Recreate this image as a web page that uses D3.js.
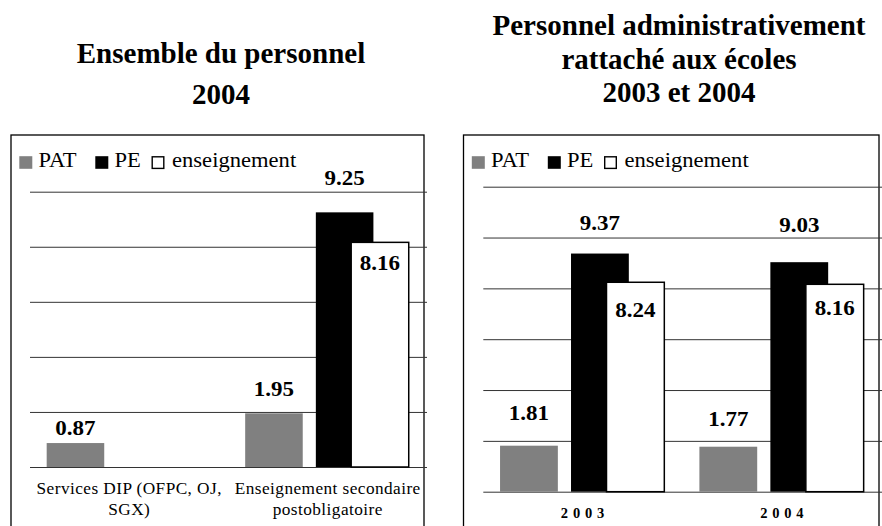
<!DOCTYPE html>
<html>
<head>
<meta charset="utf-8">
<script src="https://cdn.jsdelivr.net/npm/d3@7"></script>
<style>
  body { margin: 0; background: #fff; }
  svg { display: block; }
</style>
</head>
<body>
<script>
// data
var seriesNames = ["PAT", "PE", "enseignement"];

var leftCategories = ["Services DIP (OFPC, OJ, SGX)", "Enseignement secondaire postobligatoire"];
var leftPAT = [0.87, 1.95];
var leftPE = [null, 9.25];
var leftEns = [null, 8.16];
var leftTicks = [0, 2, 4, 6, 8, 10];

var rightCategories = ["2003", "2004"];
var rightPAT = [1.81, 1.77];
var rightPE = [9.37, 9.03];
var rightEns = [8.24, 8.16];
var rightTicks = [0, 2, 4, 6, 8, 10, 12];

// label nudges (pixels above the bar top, negative = inside the bar)
var leftNudge = [[8, 17], [null, 27], [null, -28]];
var rightNudge = [[26, 21], [24, 30], [-35, -31]];

var colors = { "PAT": "#808080", "PE": "#000000", "enseignement": "#ffffff" };
var serif = "Liberation Serif";

var width = 882, height = 526;

var svg = d3.select('body')
    .append('svg')
    .attr('width', width)
    .attr('height', height);

// linebreaking, stretched text measured with its x scale
function wrap(text, maxWidth, stretch, lineHeight) {
    text.each(function () {
        var text = d3.select(this),
            words = text.text().split(/\s+/).reverse(),
            word,
            line = [],
            lineNumber = 0,
            tspan = text.text(null).append("tspan").attr("x", 0).attr("y", 0);
        while (word = words.pop()) {
            line.push(word);
            tspan.text(line.join(" "));
            if (tspan.node().getComputedTextLength() * stretch > maxWidth && line.length > 1) {
                line.pop();
                tspan.text(line.join(" "));
                line = [word];
                tspan = text.append("tspan")
                    .attr("x", 0)
                    .attr("y", ++lineNumber * lineHeight)
                    .text(word);
            }
        }
    });
}

function drawTitle(lines, cx, baselines) {
    lines.forEach(function (t, i) {
        svg.append('text')
            .attr('x', cx)
            .attr('y', baselines[i])
            .attr('text-anchor', 'middle')
            .attr('font-family', serif)
            .attr('font-weight', 'bold')
            .attr('font-size', 29)
            .text(t);
    });
}

function drawPanel(opts) {
    var g = svg.append('g');

    // frame, open at the bottom of the picture
    g.append('rect')
        .attr('x', opts.boxX)
        .attr('y', 135)
        .attr('width', opts.boxW)
        .attr('height', 420)
        .attr('fill', 'none')
        .attr('stroke', '#000')
        .attr('stroke-width', 1.3);

    var y = d3.scaleLinear()
        .domain([0, d3.max(opts.ticks)])
        .range([opts.baseline, opts.top]);

    var x0 = d3.scaleBand()
        .domain(opts.categories)
        .range([opts.plotLeft, opts.plotRight])
        .padding(0);

    var offset = d3.scaleOrdinal()
        .domain(seriesNames)
        .range([0.084, 0.44, 0.618]);
    var barW = x0.bandwidth() * 0.29;

    // gridlines
    var grid = g.append('g')
        .attr('transform', 'translate(' + opts.plotLeft + ',0)')
        .call(d3.axisLeft(y)
            .tickValues(opts.ticks)
            .tickSize(-(opts.plotRight - opts.plotLeft))
            .tickFormat(''));
    grid.select('.domain').remove();
    grid.selectAll('line')
        .attr('stroke', '#333')
        .attr('stroke-width', 1);

    var series = [opts.pat, opts.pe, opts.ens];

    series.forEach(function (vals, si) {
        var name = seriesNames[si];
        var data = opts.categories.map(function (c, i) { return { cat: c, value: vals[i], i: i }; })
            .filter(function (d) { return d.value != null; });

        g.selectAll('rect.s' + si)
            .data(data)
            .enter().append('rect')
            .attr('class', 's' + si)
            .attr('x', function (d) { return x0(d.cat) + offset(name) * x0.bandwidth(); })
            .attr('y', function (d) { return y(d.value); })
            .attr('width', barW)
            .attr('height', function (d) { return y(0) - y(d.value); })
            .attr('fill', colors[name])
            .attr('stroke', name == 'enseignement' ? '#000' : 'none')
            .attr('stroke-width', 1.5);
    });

    // value labels on top of everything
    series.forEach(function (vals, si) {
        var name = seriesNames[si];
        var data = opts.categories.map(function (c, i) { return { cat: c, value: vals[i], i: i }; })
            .filter(function (d) { return d.value != null; });

        g.selectAll('text.v' + si)
            .data(data)
            .enter().append('text')
            .attr('class', 'v' + si)
            .attr('transform', function (d) {
                var cx = x0(d.cat) + offset(name) * x0.bandwidth() + barW / 2;
                var ty = y(d.value) - opts.nudge[si][d.i];
                return 'translate(' + cx + ',' + ty + ') scale(1.15,1)';
            })
            .attr('text-anchor', 'middle')
            .attr('font-family', serif)
            .attr('font-weight', 'bold')
            .attr('font-size', 20)
            .text(function (d) { return d.value.toFixed(2); });
    });

    // legend
    var legend = g.append('g')
        .attr('transform', 'translate(' + opts.boxX + ',0)');
    var legX = [8.3, 84.3, 141.2];
    var legTextX = [27.5, 103.5, 161];
    seriesNames.forEach(function (name, i) {
        legend.append('rect')
            .attr('x', legX[i])
            .attr('y', name == 'enseignement' ? 156.8 : 156.2)
            .attr('width', name == 'enseignement' ? 11.6 : 13)
            .attr('height', name == 'enseignement' ? 11.6 : 12.6)
            .attr('fill', colors[name])
            .attr('stroke', name == 'enseignement' ? '#000' : 'none')
            .attr('stroke-width', 1.4);
        legend.append('text')
            .attr('transform', 'translate(' + legTextX[i] + ',166.5) scale(1.13,1)')
            .attr('font-family', serif)
            .attr('font-size', 20)
            .text(name);
    });

    // category labels
    var cats = g.selectAll('text.cat')
        .data(opts.categories)
        .enter().append('text')
        .attr('class', 'cat')
        .attr('font-family', serif)
        .attr('text-anchor', 'middle');

    if (opts.years) {
        cats.attr('x', function (d) { return x0(d) + x0.bandwidth() / 2 + 2; })
            .attr('y', opts.baseline + 26.6)
            .attr('font-weight', 'bold')
            .attr('font-size', 14.5)
            .attr('letter-spacing', 4.8)
            .text(function (d) { return d; });
    } else {
        cats.attr('font-size', 16)
            .attr('letter-spacing', 0.4)
            .text(function (d) { return d; })
            .call(wrap, x0.bandwidth() - 10, 1.08, 21)
            .attr('transform', function (d) {
                return 'translate(' + (x0(d) + x0.bandwidth() / 2) + ',' + (opts.baseline + 27) + ') scale(1.08,1)';
            });
    }
}

drawTitle(["Ensemble du personnel", "2004"], 221, [63, 104]);
drawTitle(["Personnel administrativement", "rattaché aux écoles", "2003 et 2004"], 679, [35, 69, 102]);

drawPanel({
    boxX: 11, boxW: 413,
    plotLeft: 30, plotRight: 427,
    baseline: 467, top: 191.7,
    ticks: leftTicks,
    categories: leftCategories,
    pat: leftPAT, pe: leftPE, ens: leftEns,
    nudge: leftNudge,
    years: false
});

drawPanel({
    boxX: 463.5, boxW: 415.5,
    plotLeft: 483.3, plotRight: 882,
    baseline: 491.7, top: 186.7,
    ticks: rightTicks,
    categories: rightCategories,
    pat: rightPAT, pe: rightPE, ens: rightEns,
    nudge: rightNudge,
    years: true
});
</script>
</body>
</html>
